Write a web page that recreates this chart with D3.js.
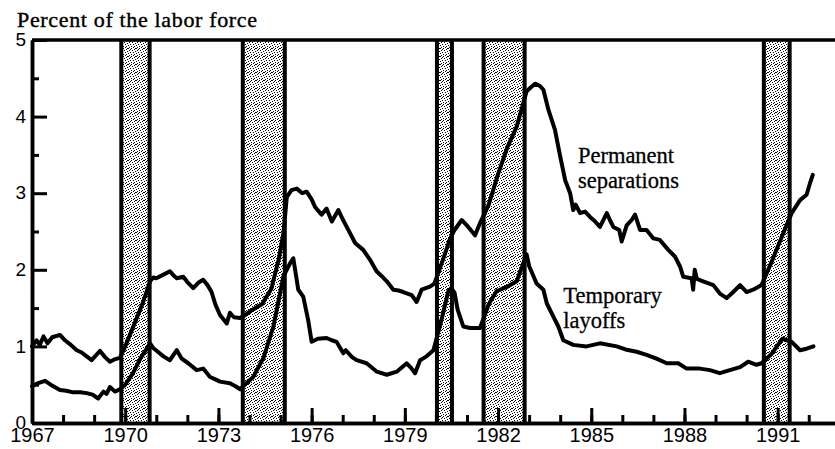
<!DOCTYPE html>
<html><head><meta charset="utf-8">
<script src="https://cdn.jsdelivr.net/npm/d3@7"></script>
<style>body{margin:0;background:#fff}svg{display:block}</style>
</head><body>
<script>
const title = "Percent of the labor force";
const yTicks = [0,1,2,3,4,5];
const xTickYears = [1967,1970,1973,1976,1979,1982,1985,1988,1991];
const recessions = [[1969.81,1970.85],[1973.72,1975.2],[1979.97,1980.58],[1981.47,1982.92],[1990.49,1991.45]];
const permanent = [[1967.0,1.0],[1967.15,1.08],[1967.25,1.02],[1967.37,1.13],[1967.5,1.04],[1967.65,1.12],[1967.9,1.15],[1968.06,1.08],[1968.25,1.02],[1968.44,0.95],[1968.6,0.92],[1968.76,0.87],[1968.92,0.82],[1969.05,0.88],[1969.19,0.94],[1969.35,0.86],[1969.51,0.8],[1969.65,0.83],[1969.83,0.85],[1970.0,1.0],[1970.3,1.3],[1970.55,1.55],[1970.8,1.85],[1970.9,1.9],[1971.0,1.89],[1971.2,1.93],[1971.44,1.98],[1971.55,1.93],[1971.66,1.89],[1971.87,1.91],[1972.0,1.84],[1972.19,1.76],[1972.35,1.83],[1972.51,1.87],[1972.65,1.8],[1972.78,1.71],[1972.9,1.55],[1973.05,1.41],[1973.27,1.3],[1973.37,1.44],[1973.5,1.38],[1973.7,1.37],[1973.9,1.42],[1974.1,1.48],[1974.4,1.55],[1974.7,1.75],[1974.95,2.15],[1975.1,2.5],[1975.2,2.95],[1975.35,3.04],[1975.52,3.06],[1975.7,3.0],[1975.84,3.02],[1976.0,2.92],[1976.11,2.82],[1976.32,2.72],[1976.48,2.8],[1976.65,2.63],[1976.86,2.78],[1977.0,2.66],[1977.13,2.56],[1977.4,2.35],[1977.66,2.26],[1977.88,2.13],[1978.09,1.98],[1978.25,1.92],[1978.42,1.85],[1978.63,1.74],[1978.8,1.73],[1978.95,1.71],[1979.22,1.67],[1979.38,1.58],[1979.54,1.74],[1979.81,1.78],[1979.95,1.82],[1980.2,2.1],[1980.45,2.4],[1980.6,2.52],[1980.83,2.65],[1980.95,2.6],[1981.04,2.56],[1981.26,2.45],[1981.42,2.61],[1981.7,2.85],[1982.0,3.25],[1982.3,3.6],[1982.6,3.87],[1982.92,4.33],[1983.05,4.38],[1983.19,4.43],[1983.35,4.4],[1983.46,4.35],[1983.62,4.09],[1983.83,3.83],[1984.0,3.48],[1984.16,3.17],[1984.32,3.0],[1984.42,2.78],[1984.5,2.85],[1984.64,2.74],[1984.8,2.76],[1984.96,2.69],[1985.1,2.64],[1985.28,2.56],[1985.5,2.74],[1985.6,2.65],[1985.71,2.56],[1985.9,2.52],[1985.98,2.37],[1986.14,2.58],[1986.3,2.65],[1986.41,2.72],[1986.57,2.52],[1986.78,2.52],[1987.0,2.41],[1987.21,2.39],[1987.48,2.26],[1987.7,2.17],[1987.86,2.04],[1987.96,1.91],[1988.23,1.89],[1988.28,1.74],[1988.33,2.0],[1988.4,1.88],[1988.6,1.85],[1988.93,1.8],[1989.14,1.69],[1989.36,1.63],[1989.57,1.71],[1989.79,1.8],[1990.0,1.71],[1990.21,1.74],[1990.48,1.8],[1990.8,2.1],[1991.1,2.4],[1991.45,2.74],[1991.72,2.91],[1991.93,2.98],[1992.04,3.13],[1992.13,3.24]];
const temporary = [[1967.0,0.48],[1967.2,0.52],[1967.42,0.55],[1967.6,0.5],[1967.9,0.43],[1968.1,0.42],[1968.33,0.4],[1968.55,0.4],[1968.76,0.39],[1968.95,0.37],[1969.13,0.32],[1969.3,0.41],[1969.4,0.38],[1969.51,0.47],[1969.67,0.41],[1969.83,0.44],[1970.0,0.5],[1970.25,0.65],[1970.5,0.85],[1970.8,1.04],[1970.9,0.98],[1971.05,0.93],[1971.23,0.87],[1971.44,0.82],[1971.66,0.95],[1971.82,0.84],[1972.03,0.78],[1972.3,0.69],[1972.51,0.71],[1972.73,0.6],[1972.9,0.57],[1973.05,0.54],[1973.37,0.52],[1973.55,0.48],[1973.7,0.44],[1973.9,0.52],[1974.12,0.6],[1974.45,0.85],[1974.77,1.26],[1975.09,1.91],[1975.3,2.08],[1975.41,2.15],[1975.57,1.74],[1975.73,1.65],[1975.89,1.34],[1976.0,1.06],[1976.2,1.1],[1976.48,1.11],[1976.65,1.08],[1976.8,1.06],[1977.02,0.91],[1977.1,0.95],[1977.3,0.86],[1977.45,0.82],[1977.77,0.78],[1978.1,0.67],[1978.42,0.63],[1978.74,0.67],[1979.06,0.78],[1979.2,0.72],[1979.33,0.65],[1979.49,0.82],[1979.7,0.87],[1979.92,0.95],[1980.15,1.3],[1980.4,1.72],[1980.5,1.76],[1980.6,1.7],[1980.7,1.48],[1980.88,1.26],[1981.1,1.24],[1981.42,1.24],[1981.7,1.55],[1981.95,1.72],[1982.3,1.78],[1982.6,1.85],[1982.92,2.2],[1983.0,2.05],[1983.24,1.82],[1983.46,1.74],[1983.57,1.56],[1983.78,1.39],[1983.94,1.26],[1984.1,1.08],[1984.42,1.02],[1984.85,1.0],[1985.28,1.04],[1985.82,1.0],[1986.1,0.96],[1986.46,0.93],[1986.78,0.89],[1987.1,0.84],[1987.43,0.78],[1987.8,0.78],[1988.07,0.71],[1988.5,0.71],[1988.82,0.69],[1989.14,0.65],[1989.46,0.69],[1989.79,0.73],[1990.05,0.8],[1990.32,0.76],[1990.48,0.78],[1990.8,0.9],[1991.15,1.1],[1991.45,1.06],[1991.72,0.95],[1991.93,0.97],[1992.15,1.0]];
const seriesLabels = [
  {lines:["Permanent","separations"], year:1984.57, value:3.39},
  {lines:["Temporary","layoffs"], year:1984.1, value:1.565}
];

const W = 835, H = 449;
const svg = d3.select("body").append("svg").attr("width", W).attr("height", H);
const x = d3.scaleLinear().domain([1967, 1992.845]).range([32, 835]);
const y = d3.scaleLinear().domain([0, 5]).range([423, 40]);

// texture pattern for recession bands
const defs = svg.append("defs");
const pat = defs.append("pattern").attr("id","speck").attr("patternUnits","userSpaceOnUse")
  .attr("width",8).attr("height",8);
pat.append("rect").attr("width",8).attr("height",8).attr("fill","#fff");
const dots = [[0,0],[3,0],[6,1],[1,2],[4,2],[7,3],[2,4],[5,4],[0,5],[6,6],[3,6],[1,7],[5,7],[7,0],[2,1]];
pat.selectAll("rect.d").data(dots).join("rect").attr("class","d")
  .attr("x",d=>d[0]).attr("y",d=>d[1]).attr("width",1).attr("height",1).attr("fill","#000");

// bands
const bands = svg.append("g");
bands.selectAll("rect.outer").data(recessions).join("rect").attr("class","outer")
  .attr("x", d => x(d[0])).attr("width", d => x(d[1]) - x(d[0]))
  .attr("y", y(5)).attr("height", y(0) - y(5)).attr("fill", "#000");
bands.selectAll("rect.inner").data(recessions).join("rect").attr("class","inner")
  .attr("x", d => x(d[0]) + 4).attr("width", d => x(d[1]) - x(d[0]) - 8)
  .attr("y", y(5)).attr("height", y(0) - y(5)).attr("fill", "url(#speck)");

// lines
const line = d3.line().x(d => x(d[0])).y(d => y(d[1]));
[permanent, temporary].forEach(s => {
  svg.append("path").datum(s).attr("d", line).attr("fill","none")
    .attr("stroke","#000").attr("stroke-width",4).attr("stroke-linejoin","round").attr("stroke-linecap","round");
});

// axes
const axisFont = "'Liberation Sans', Arial, sans-serif";
const yAxis = svg.append("g").attr("transform", `translate(${x(1967)},0)`)
  .call(d3.axisLeft(y).tickValues(yTicks).tickSize(-15).tickSizeOuter(0).tickPadding(6).tickFormat(d3.format("d")));
const yMinor = svg.append("g").attr("transform", `translate(${x(1967)},0)`)
  .call(d3.axisLeft(y).tickValues([0.5,1.5,2.5,3.5,4.5]).tickSize(-7).tickSizeOuter(0).tickFormat(""));
const xAxis = svg.append("g").attr("transform", `translate(0,${y(0)})`)
  .call(d3.axisBottom(x).tickValues(xTickYears).tickSize(-15).tickSizeOuter(0).tickPadding(5).tickFormat(d3.format("d")));
const xMinor = svg.append("g").attr("transform", `translate(0,${y(0)})`)
  .call(d3.axisBottom(x).tickValues(d3.range(1968, 1993)).tickSize(-8).tickSizeOuter(0).tickFormat(""));
[yAxis, yMinor, xAxis, xMinor].forEach(g => {
  g.selectAll("path.domain").attr("stroke","#000").attr("stroke-width",3.5);
  g.selectAll(".tick line").attr("stroke","#000").attr("stroke-width",3);
  g.selectAll("text").attr("fill","#000").style("font-family", axisFont);
});
yAxis.selectAll("text").style("font-size","19px").attr("x", -6).attr("dy","0.3em").attr("text-anchor","end");
xAxis.selectAll("text").style("font-size","20px");
// top border
svg.append("line").attr("x1", x(1967)).attr("x2", W).attr("y1", y(5)).attr("y2", y(5))
  .attr("stroke","#000").attr("stroke-width",3.5);

// title
svg.append("text").attr("x", 17).attr("y", 27).text(title)
  .attr("textLength", 240).attr("lengthAdjust","spacing")
  .style("font-family","'Liberation Serif', 'Times New Roman', serif").style("font-size","22px")
  .attr("fill","#000").attr("stroke","#000").attr("stroke-width",0.4);

// series labels
seriesLabels.forEach(l => {
  const t = svg.append("text").attr("x", x(l.year)).attr("y", y(l.value))
    .style("font-family","'Liberation Serif', 'Times New Roman', serif").style("font-size","22.5px")
    .attr("fill","#000").attr("stroke","#000").attr("stroke-width",0.3);
  l.lines.forEach((s,i) => t.append("tspan").attr("x", x(l.year)).attr("dy", i ? 25 : 0).text(s));
});
</script>
</body></html>
